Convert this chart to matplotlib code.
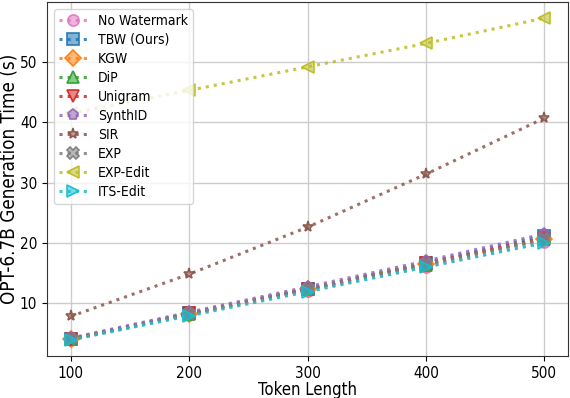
import matplotlib
matplotlib.use("Agg")
import matplotlib.pyplot as plt
from matplotlib.colors import to_rgba

plt.rcParams["font.family"] = ["DejaVu Sans"]
plt.rcParams["font.stretch"] = "condensed"

token_lengths = [100, 200, 300, 400, 500]
methods = ["No Watermark", "TBW (Ours)", "KGW", "DiP", "Unigram", "SynthID",
           "SIR", "EXP", "EXP-Edit", "ITS-Edit"]
no_watermark = [3.9, 8.0, 12.0, 16.0, 20.1]
tbw = [4.1, 8.3, 12.4, 16.7, 21.2]
kgw = [4.0, 8.2, 12.3, 16.5, 20.7]
dip = [4.0, 8.2, 12.3, 16.4, 20.6]
unigram = [4.1, 8.3, 12.4, 16.6, 20.8]
synthid = [4.2, 8.5, 12.7, 17.0, 21.5]
sir = [7.8, 14.8, 22.6, 31.4, 40.7]
exp = [4.0, 8.2, 12.3, 16.5, 20.6]
exp_edit = [41.5, 45.3, 49.2, 53.1, 57.3]
its_edit = [3.9, 7.9, 11.9, 16.0, 20.0]

series = [no_watermark, tbw, kgw, dip, unigram, synthid, sir, exp, exp_edit, its_edit]
markers = ["o", "s", "D", "^", "v", "p", "*", "X", "<", ">"]
colors = ["tab:pink", "tab:blue", "tab:orange", "tab:green", "tab:red",
          "tab:purple", "tab:brown", "tab:gray", "tab:olive", "tab:cyan"]

fig = plt.figure(figsize=(5.7, 3.98), dpi=100)
ax = fig.add_axes([47/570, 1 - 356/398, 521/570, 354/398])

for i, (name, vals) in enumerate(zip(methods, series)):
    c = colors[i]
    ax.plot(token_lengths, vals, linestyle=":", linewidth=2.2, marker=markers[i],
            markersize=8, color=to_rgba(c, 0.85), markerfacecolor=to_rgba(c, 0.55),
            markeredgecolor=to_rgba(c, 0.95), markeredgewidth=1.2, label=name)

ax.set_xticks(token_lengths)
ax.set_yticks([10, 20, 30, 40, 50])
ax.tick_params(labelsize=11, length=3.5, pad=3.5)
ax.set_xlabel("Token Length", fontsize=12, labelpad=0.5)
ax.set_ylabel("OPT-6.7B Generation Time (s)", fontsize=13.5, labelpad=1)
ax.grid(True, color="#cccccc", linewidth=1.0)
ax.set_axisbelow(True)
for s in ax.spines.values():
    s.set_color("#333333")
ax.legend(loc="upper left", fontsize=10, handlelength=2.0, labelspacing=0.36,
          borderpad=0.35, handletextpad=0.8, borderaxespad=0.5)
fig.savefig("out.png", dpi=100)
